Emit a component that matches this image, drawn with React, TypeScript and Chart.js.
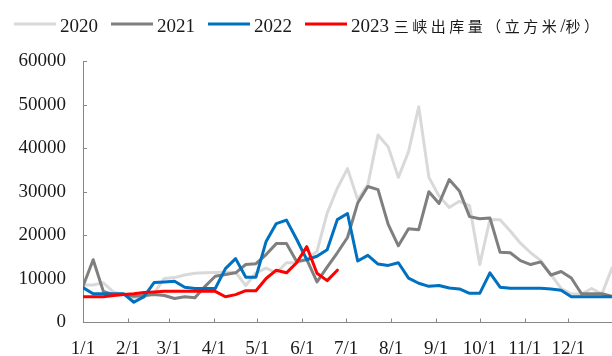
import { useEffect, useRef } from "react";
import { Chart, registerables } from "chart.js";

Chart.register(...registerables);

// Day-of-year positions of the month-start ticks and their labels
const monthTickDays = [0, 31, 59, 90, 120, 151, 181, 212, 243, 273, 304, 334];
const monthTickLabels = ["1/1", "2/1", "3/1", "4/1", "5/1", "6/1", "7/1", "8/1", "9/1", "10/1", "11/1", "12/1"];

const seriesLabels = ["2020", "2021", "2022", "2023 三峡出库量（立方米/秒）"];
const seriesColors = ["#d9d9d9", "#7f7f7f", "#0070c0", "#ff0000"];

// Weekly outflow, m³/s (one value per week from 1 Jan)
const flow2020 = [
  8600, 8600, 9100, 7000, 6400, 5700, 5800, 6800, 10100, 10300, 10900, 11300, 11400,
  11500, 11600, 11500, 8500, 11400, 12500, 11400, 13700, 13700, 14600, 16300, 25100,
  30800, 35300, 28200, 31600, 43000, 40300, 33300, 39200, 49500, 33300, 29000, 26400,
  27800, 26800, 13300, 23600, 23600, 21000, 18200, 16000, 14200, 11000, 7800, 6600,
  6500, 7800, 6500, 12500,
];
const flow2021 = [
  8300, 14400, 7150, 6400, 6400, 6000, 6200, 6400, 6200, 5500, 5900, 5700, 8300,
  10600, 11000, 11400, 13300, 13500, 15600, 18100, 18100, 14000, 14400, 9300, 12700,
  16000, 19500, 27400, 31200, 30500, 22500, 17600, 21500, 21300, 30000, 27300, 32800,
  30200, 24300, 23800, 24000, 16100, 16000, 14200, 13300, 13900, 10900, 11700, 10200,
  6600, 6600, 6600, 6000,
];
const flow2022 = [
  8000, 6600, 6600, 6600, 6600, 4650, 5950, 9200, 9300, 9450, 8100, 7800, 7800,
  7800, 12350, 14650, 10400, 10400, 18600, 22700, 23500, 19100, 14400, 15200, 16700,
  23600, 25000, 14100, 15400, 13400, 13100, 13700, 10200, 9000, 8300, 8500, 7900,
  7700, 6700, 6700, 11400, 8100, 7850, 7850, 7850, 7850, 7700, 7400, 5900,
  5900, 5900, 5900, 5900,
];
const flow2023 = [
  5900, 5900, 5900, 6200, 6400, 6600, 6900, 7000, 7150, 7150, 7150, 7150, 7150,
  7150, 5900, 6400, 7300, 7300, 10100, 12000, 11400, 13700, 17400, 11300, 9600,
  12000,
];

const yTickValues = [0, 10000, 20000, 30000, 40000, 50000, 60000];

const AXIS_COLOR = "#878787";
const TEXT_COLOR = "#1a1a1a";
const SERIF = '"Liberation Serif", "Times New Roman", serif';
const CJK = '"Noto Sans CJK SC", sans-serif';

const toWeekly = (values: number[]) => values.map((v, i) => ({ x: i * 7, y: v }));

const isCjk = (ch: string) => /[\u3000-\u9fff\uff00-\uffef]/.test(ch);

// Split a label into runs of Latin and CJK characters
function splitRuns(text: string) {
  const runs: { text: string; cjk: boolean }[] = [];
  for (const ch of text) {
    const c = isCjk(ch);
    const last = runs[runs.length - 1];
    if (last && last.cjk === c) last.text += ch;
    else runs.push({ text: ch, cjk: c });
  }
  return runs;
}

// Legend row across the top: short line sample followed by the label
const legendRow = {
  id: "legendRow",
  afterDraw(chart: any) {
    const ctx = chart.ctx as CanvasRenderingContext2D;
    const lineY = 24;
    const baseY = 32;
    let x = 14;
    chart.data.datasets.forEach((ds: any) => {
      ctx.save();
      ctx.strokeStyle = ds.borderColor;
      ctx.lineWidth = 3;
      ctx.beginPath();
      ctx.moveTo(x, lineY);
      ctx.lineTo(x + 42, lineY);
      ctx.stroke();
      x += 46;
      ctx.fillStyle = TEXT_COLOR;
      ctx.textBaseline = "alphabetic";
      ctx.textAlign = "left";
      let first = true;
      for (const run of splitRuns(ds.label)) {
        if (run.cjk) {
          ctx.font = `15px ${CJK}`;
          (ctx as any).letterSpacing = "3.5px";
          if (first) x += 3;
        } else {
          ctx.font = `19px ${SERIF}`;
          (ctx as any).letterSpacing = "0px";
        }
        ctx.fillText(run.text, x, baseY);
        x += ctx.measureText(run.text).width;
        first = false;
      }
      ctx.restore();
      x += 13;
    });
  },
};

// Short tick marks pointing into the plot area
const innerTicks = {
  id: "innerTicks",
  afterDraw(chart: any) {
    const { ctx, chartArea, scales } = chart;
    ctx.save();
    ctx.strokeStyle = AXIS_COLOR;
    ctx.lineWidth = 1;
    ctx.beginPath();
    for (const d of monthTickDays) {
      if (d === 0) continue;
      const px = Math.round(scales.x.getPixelForValue(d)) + 0.5;
      ctx.moveTo(px, chartArea.bottom);
      ctx.lineTo(px, chartArea.bottom - 4);
    }
    for (const v of yTickValues) {
      if (v === 0) continue;
      const py = Math.round(scales.y.getPixelForValue(v)) + 0.5;
      ctx.moveTo(chartArea.left, py);
      ctx.lineTo(chartArea.left + 4, py);
    }
    ctx.stroke();
    ctx.restore();
  },
};

export default function App() {
  const canvasRef = useRef<HTMLCanvasElement | null>(null);

  useEffect(() => {
    document.body.style.margin = "0";
    const canvas = canvasRef.current;
    if (!canvas) return;

    const series = [flow2020, flow2021, flow2022, flow2023];
    const chart = new Chart(canvas, {
      type: "line",
      data: {
        datasets: series.map((values, i) => ({
          label: seriesLabels[i],
          data: toWeekly(values),
          borderColor: seriesColors[i],
          backgroundColor: seriesColors[i],
          borderWidth: 3,
          pointRadius: 0,
          tension: 0,
          fill: false,
          borderJoinStyle: "round" as const,
          borderCapStyle: "round" as const,
          order: series.length - 1 - i,
        })),
      },
      options: {
        animation: false,
        responsive: false,
        layout: { padding: { top: 61, left: 18, right: 0, bottom: 0 } },
        plugins: {
          legend: { display: false },
          tooltip: { enabled: false },
        },
        scales: {
          x: {
            type: "linear",
            min: 0,
            max: 364,
            grid: { display: false, drawTicks: false },
            border: { display: true, color: AXIS_COLOR, width: 1 },
            afterBuildTicks: (scale: any) => {
              scale.ticks = monthTickDays.map((v) => ({ value: v }));
            },
            afterFit: (scale: any) => {
              scale.height = 33.5;
            },
            ticks: {
              autoSkip: false,
              maxRotation: 0,
              padding: 17,
              color: TEXT_COLOR,
              font: { family: SERIF, size: 19, lineHeight: 1 },
              callback: (value: any) => {
                const idx = monthTickDays.indexOf(Number(value));
                return idx >= 0 ? monthTickLabels[idx] : "";
              },
            },
          },
          y: {
            min: 0,
            max: 60000,
            grid: { display: false, drawTicks: false },
            border: { display: true, color: AXIS_COLOR, width: 1 },
            afterBuildTicks: (scale: any) => {
              scale.ticks = yTickValues.map((v) => ({ value: v }));
            },
            afterFit: (scale: any) => {
              scale.width = 65;
            },
            ticks: {
              padding: 17,
              color: TEXT_COLOR,
              font: { family: SERIF, size: 19, lineHeight: 1 },
              callback: (value: any) => String(value),
            },
          },
        },
      },
      plugins: [legendRow, innerTicks],
    });

    return () => chart.destroy();
  }, []);

  return (
    <div style={{ width: 612, height: 356 }}>
      <canvas ref={canvasRef} width={612} height={356} style={{ display: "block" }} />
    </div>
  );
}
